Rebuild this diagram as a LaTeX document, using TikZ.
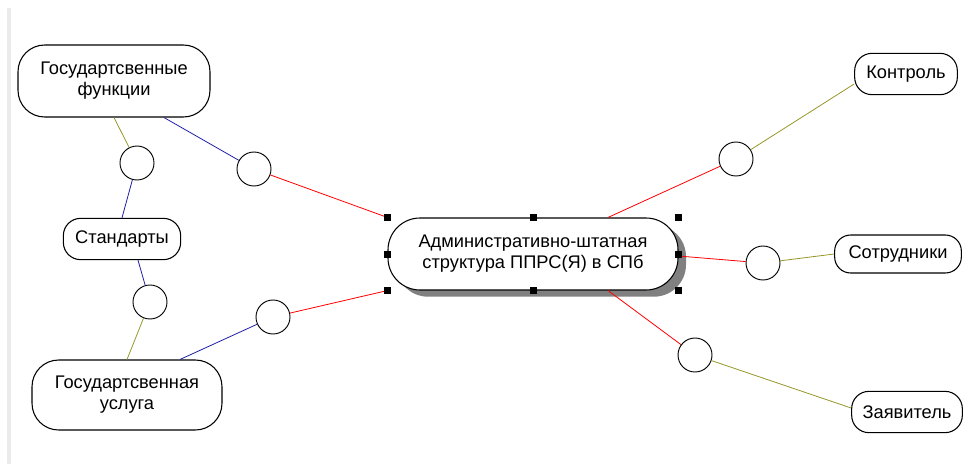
\documentclass[tikz,border=0pt]{standalone}
\usepackage{fontspec}
\setmainfont{Liberation Sans}
\usepackage{tikz}
\usetikzlibrary{calc}
\usetikzlibrary{shadows}
\definecolor{linkred}{RGB}{255,0,0}
\definecolor{linkblue}{RGB}{30,30,165}
\definecolor{linkolive}{RGB}{150,150,40}
\tikzset{
  topic/.style={draw, fill=white, rounded corners=20pt, line width=0.8pt, inner sep=0pt,
    align=center, font=\fontsize{13.7}{15.75}\selectfont},
  joint/.style={draw, fill=white, circle, minimum size=25.5pt, inner sep=0pt, line width=0.7pt},
  redlink/.style={draw=linkred, line width=0.6pt},
  bluelink/.style={draw=linkblue, line width=0.6pt},
  olivelink/.style={draw=linkolive, line width=0.6pt}
}

\begin{document}
\begin{tikzpicture}[x=0.75pt,y=-0.75pt]
            \useasboundingbox (0,0) rectangle (964,464);
            \fill[black!8] (7,8) rectangle (11,464);

            \draw (114,81) node[topic, minimum width=144pt, minimum height=54pt]              (fun) {Государтсвенные\\функции};
            \draw (122,239) node[topic, minimum width=88pt, minimum height=31pt, rounded corners=13pt] (std) {Стандарты};
            \draw (127,395) node[topic, minimum width=142.5pt, minimum height=52.5pt]          (usl) {Государтсвенная\\услуга};
            \draw (533,254) node[topic, minimum width=217.5pt, minimum height=54pt, rounded corners=24pt,
                  drop shadow={shadow xshift=6pt, shadow yshift=-5pt, fill=black!50, opacity=1}] (adm) {Административно-штатная\\структура ППРС(Я) в СПб};
            \draw (906,74) node[topic, minimum width=77pt, minimum height=31pt, rounded corners=13pt]   (ktr) {Контроль};
            \draw (898,254) node[topic, minimum width=95pt, minimum height=28.5pt, rounded corners=12pt] (sot) {Сотрудники};
            \draw (907,412) node[topic, minimum width=83pt, minimum height=31pt, rounded corners=13pt]  (zay) {Заявитель};

            \draw (137,163) node[joint] (j1) {};
            \draw (254,169) node[joint] (j2) {};
            \draw (150,302) node[joint] (j3) {};
            \draw (273,317) node[joint] (j4) {};
            \draw (736,159) node[joint] (j5) {};
            \draw (763,263) node[joint] (j6) {};
            \draw (695,355) node[joint] (j7) {};

            \draw[olivelink] (fun.south) -- (j1);
            \draw[bluelink] (j1) -- (std.north);
            \draw[bluelink] ($(fun.south)+(50,0)$) -- (j2);
            \draw[redlink] (j2) -- (adm.north west);
            \draw[bluelink] ($(std.south)+(16,0)$) -- (j3);
            \draw[olivelink] (j3) -- (usl.north);
            \draw[bluelink] ($(usl.north)+(53,0)$) -- (j4);
            \draw[redlink] (j4) -- (adm.south west);
            \draw[redlink] ($(adm.north)+(75,0)$) -- (j5);
            \draw[olivelink] (j5) -- ($(ktr.west)+(0,10)$);
            \draw[redlink] ($(adm.east)+(0,2)$) -- (j6);
            \draw[olivelink] (j6) -- (sot.west);
            \draw[redlink] ($(adm.south)+(75,0)$) -- (j7);
            \draw[olivelink] (j7) -- ($(zay.west)+(0,-4)$);

            \foreach \a in {north west,north,north east,west,east,south west,south,south east}
              \fill (adm.\a) ++(-3.5,-3.5) rectangle ++(7,7);
\end{tikzpicture}
\end{document}
